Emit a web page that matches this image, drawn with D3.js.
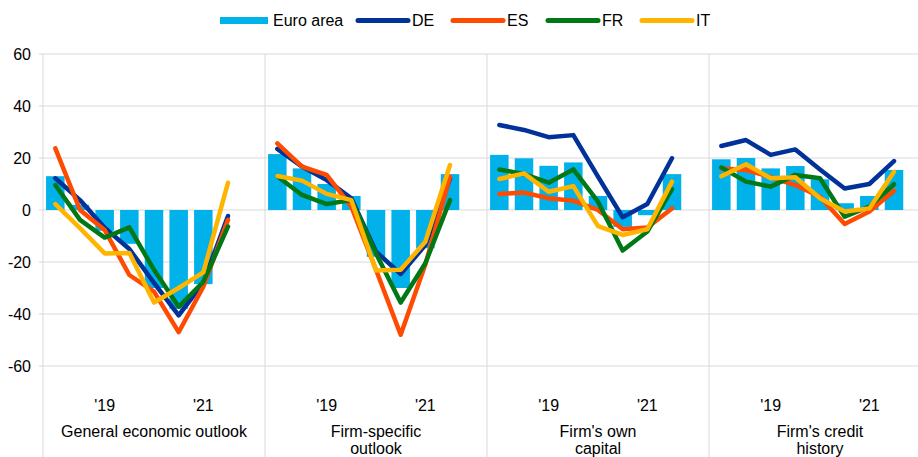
<!DOCTYPE html>
<html>
<head>
<meta charset="utf-8">
<script src="https://cdn.jsdelivr.net/npm/d3@7"></script>
<style>
  body { margin: 0; background: #fff; }
  svg { display: block; font-family: "Liberation Sans", Arial, sans-serif; }
</style>
</head>
<body>
<div id="chart"></div>
<script>
// survey rounds per panel (half-years), a blank slot closes each panel
var periods = ['18H1', '18H2', '19H1', '19H2', '20H1', '20H2', '21H1', '21H2'];
var periodTicks = ['', '', "'19", '', '', '', "'21", ''];

var panels = ['General economic outlook', 'Firm-specific outlook', "Firm's own capital", "Firm's credit history"];
var panelLabelLines = [['General economic outlook'], ['Firm-specific', 'outlook'], ["Firm's own", 'capital'], ["Firm's credit", 'history']];

var yTicks = [-60, -40, -20, 0, 20, 40, 60];

// Euro area (bars)
var euroArea = [
  [13, 2, -8, -13, -30, -38, -28.5, 0],
  [21.5, 16, 10, 5.4, -18, -30, -14.7, 13.8],
  [21.2, 19.9, 17, 18.3, 5.4, -6.5, -2, 13.8],
  [19.5, 20, 16, 16.9, 11.8, 2.6, 5.4, 15.4]
];

// countries (lines)
var de = [
  [12.2, 3.8, -6.8, -15, -28, -40.5, -28, -2.3],
  [23.5, 16.7, 11.5, 4.5, -16, -24.6, -13.5, 12],
  [32.7, 30.8, 28, 28.8, 12.8, -2.8, 2.3, 19.9],
  [24.6, 26.9, 21.2, 23.3, 15.6, 8.3, 10, 18.8]
];
var es = [
  [23.7, 0, -7.7, -25, -31.4, -47, -29.5, -3.8],
  [25.6, 16.7, 13.5, 1.3, -23, -48, -21, 12.8],
  [6.2, 6.7, 4.5, 3.6, 0, -7.4, -6.7, 0.6],
  [16, 15.4, 12.6, 9.6, 5.1, -5.4, -0.6, 7.4]
];
var fr = [
  [9.6, -3.8, -10.6, -6.7, -23, -37.2, -27.6, -6.4],
  [13, 5.8, 2.3, 3.8, -16.7, -35.6, -20.5, 3.8],
  [15.6, 13.8, 10.5, 15.6, 3.2, -15.6, -8.3, 8],
  [16.4, 10.9, 9, 13.5, 12.2, -2.6, 1.3, 9.9]
];
var it = [
  [2.3, -7, -16.7, -16.5, -35.6, -30, -24, 10.5],
  [13.1, 11.3, 6.2, 3.8, -23.3, -23, -12.2, 17.3],
  [11.9, 14.1, 7, 9.2, -6.2, -9.6, -7.4, 10.9],
  [13, 17.6, 12.2, 12.6, 4.5, -0.6, 0.6, 14.7]
];

var lineSeries = [
  { name: 'DE', color: '#003299', values: de },
  { name: 'ES', color: '#FF4B00', values: es },
  { name: 'FR', color: '#007816', values: fr },
  { name: 'IT', color: '#FFB400', values: it }
];
var barColor = '#00B1EA';
var gridColor = '#D9D9D9';

var width = 918, height = 457;
var plotLeft = 43, plotTop = 54, plotBottom = 366;
var panelWidth = 222;
var fontSize = 16;

var svg = d3.select('#chart').append('svg')
  .attr('width', width)
  .attr('height', height);

var y = d3.scaleLinear().domain([-60, 60]).range([plotBottom, plotTop]);

var xPanel = d3.scaleBand()
  .domain(panels)
  .range([plotLeft, plotLeft + panelWidth * panels.length])
  .padding(0);

// 8 rounds plus one empty slot at the end of each panel
var slots = periods.concat(['gap']);
var xSlot = d3.scaleBand()
  .domain(slots)
  .range([0, xPanel.bandwidth()])
  .paddingInner(0.25)
  .paddingOuter(0.125);

// horizontal grid + y labels
svg.append('g').selectAll('line')
  .data(yTicks)
  .enter().append('line')
  .attr('x1', plotLeft - 4)
  .attr('x2', width)
  .attr('y1', function(d) { return y(d); })
  .attr('y2', function(d) { return y(d); })
  .attr('stroke', gridColor)
  .attr('stroke-width', 1);

svg.append('g').selectAll('text')
  .data(yTicks)
  .enter().append('text')
  .attr('x', 31)
  .attr('y', function(d) { return y(d); })
  .attr('dy', '0.35em')
  .attr('text-anchor', 'end')
  .attr('font-size', fontSize)
  .attr('fill', '#000')
  .text(function(d) { return d; });

// vertical separators (left axis too)
var seps = [plotLeft].concat(panels.slice(1).map(function(p) { return xPanel(p); }));
svg.append('g').selectAll('line')
  .data(seps)
  .enter().append('line')
  .attr('x1', function(d) { return d; })
  .attr('x2', function(d) { return d; })
  .attr('y1', plotTop)
  .attr('y2', height)
  .attr('stroke', gridColor)
  .attr('stroke-width', 1);

panels.forEach(function(p, pi) {
  var g = svg.append('g')
    .attr('transform', 'translate(' + xPanel(p) + ',0)');

  // bars
  g.selectAll('rect')
    .data(euroArea[pi])
    .enter().append('rect')
    .attr('x', function(d, i) { return xSlot(periods[i]); })
    .attr('width', xSlot.bandwidth())
    .attr('y', function(d) { return y(Math.max(0, d)); })
    .attr('height', function(d) { return Math.abs(y(d) - y(0)); })
    .attr('fill', barColor);

  // lines
  var line = d3.line()
    .x(function(d, i) { return xSlot(periods[i]) + xSlot.bandwidth() / 2; })
    .y(function(d) { return y(d); });

  lineSeries.forEach(function(s) {
    g.append('path')
      .datum(s.values[pi])
      .attr('d', line)
      .attr('fill', 'none')
      .attr('stroke', s.color)
      .attr('stroke-width', 4.5)
      .attr('stroke-linejoin', 'round')
      .attr('stroke-linecap', 'round');
  });

  // year ticks
  g.selectAll('text.tick')
    .data(periodTicks)
    .enter().append('text')
    .attr('class', 'tick')
    .attr('x', function(d, i) { return xSlot(periods[i]) + xSlot.bandwidth() / 2; })
    .attr('y', 405)
    .attr('dy', '0.35em')
    .attr('text-anchor', 'middle')
    .attr('font-size', fontSize)
    .text(function(d) { return d; });

  // panel name
  g.append('g').selectAll('text')
    .data(panelLabelLines[pi])
    .enter().append('text')
    .attr('x', xPanel.bandwidth() / 2)
    .attr('y', function(d, i) { return 431 + i * 17.5; })
    .attr('dy', '0.35em')
    .attr('text-anchor', 'middle')
    .attr('font-size', fontSize)
    .text(function(d) { return d; });
});

// legend
var legend = svg.append('g');
legend.append('rect')
  .attr('x', 220).attr('y', 17)
  .attr('width', 48).attr('height', 7)
  .attr('fill', barColor);
legend.append('text')
  .attr('x', 273).attr('y', 20.5).attr('dy', '0.35em')
  .attr('font-size', fontSize)
  .text('Euro area');

var legendX = [358, 453, 548, 642];
lineSeries.forEach(function(s, i) {
  legend.append('line')
    .attr('x1', legendX[i]).attr('x2', legendX[i] + 50)
    .attr('y1', 20.5).attr('y2', 20.5)
    .attr('stroke', s.color)
    .attr('stroke-width', 5)
    .attr('stroke-linecap', 'round');
  legend.append('text')
    .attr('x', legendX[i] + 54).attr('y', 20.5).attr('dy', '0.35em')
    .attr('font-size', fontSize)
    .text(s.name);
});
</script>
</body>
</html>
